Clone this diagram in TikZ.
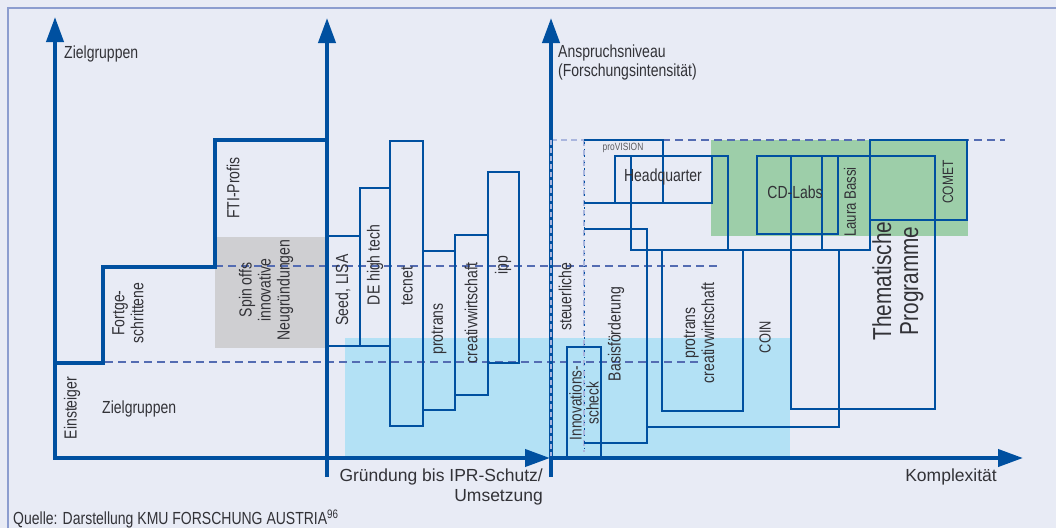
\documentclass[tikz,border=0pt]{standalone}
\usepackage{fontspec}
\setmainfont{Liberation Sans}
\newfontfamily\condfont[FakeStretch=0.8]{Liberation Sans}
\usetikzlibrary{arrows.meta}
\definecolor{kmu_bg}{RGB}{232,235,245}
\definecolor{kmu_frame}{RGB}{140,157,207}
\definecolor{kmu_blue}{RGB}{0,80,160}
\definecolor{kmu_dash}{RGB}{84,108,178}
\definecolor{kmu_light}{RGB}{170,182,222}
\definecolor{kmu_gray}{RGB}{207,207,210}
\definecolor{kmu_cyan}{RGB}{179,225,245}
\definecolor{kmu_green}{RGB}{157,206,169}
\definecolor{kmu_text}{RGB}{50,50,55}

\tikzset{
  axis/.style={kmu_blue, line width=4pt},
  axisarrow/.style={axis, -{Triangle[length=25pt,width=17pt]}},
  prog/.style={kmu_blue, line width=1.8pt},
  level/.style={kmu_dash, line width=2.6pt, dash pattern=on 8pt off 5pt},
  faint/.style={kmu_light, line width=2.4pt, dash pattern=on 6pt off 4pt},
  txt/.style={kmu_text, inner sep=0pt, align=center,
    font=\condfont\fontsize{17.5}{19}\selectfont},
  vtxt/.style={txt, rotate=90},
}

\begin{document}
\begin{tikzpicture}[x=1pt, y=-1pt]
    % Canvas 1056 x 528, coordinates counted from the top left
    \useasboundingbox (0,0) rectangle (1056,528);
    \fill[kmu_bg] (0,0) rectangle (1056,528);
    \draw[kmu_frame, line width=1.8pt] (8,528) -- (8,8) -- (1056,8);

    % Shaded areas
    \fill[kmu_gray] (215,237) rectangle (327,348);
    \fill[kmu_cyan] (345,338) rectangle (790,458);
    \fill[kmu_green] (711,140) rectangle (968,236);

    % Dashed levels
    \draw[level] (105,362) -- (702,362);
    \draw[level] (215,266) -- (720,266);
    \draw[faint] (551,140) -- (584,140);
    \draw[level] (584,140) -- (1005,140);
    \draw[faint] (584,140) -- (584,452);
    \draw[kmu_blue, line width=1pt, dash pattern=on 1.5pt off 5pt] (584,142) -- (584,452);

    % Programmes for founders
    \foreach \xa/\ya/\xb/\yb in {327/236/360/346, 360/188/390/346, 390/141/423/426,
                                 423/251/455/410, 455/235/488/395, 488/172/519/363} {
      \draw[prog] (\xa,\ya) rectangle (\xb,\yb);
    }

    % Programmes by research intensity
    \draw[prog] (567,347) rectangle (601,458);
    \draw[prog] (584,229) -- (647,229) -- (647,443) -- (584,443);
    \draw[prog] (584,140) -- (663,140) -- (663,203) -- (584,203);
    \foreach \xa/\ya/\xb/\yb in {615/156/712/203, 631/156/728/250, 662/250/743/411,
                                 647/250/839/427, 757/156/838/234, 822/156/870/250,
                                 791/156/935/409, 870/140/967/220} {
      \draw[prog] (\xa,\ya) rectangle (\xb,\yb);
    }

    % Target group staircase and axes
    \draw[axis] (55,363) -- (103,363) -- (103,267) -- (215,267) -- (215,140) -- (327,140);
    \draw[axisarrow, line join=miter] (327,458) -- (55,458) -- (55,17);
    \draw[axisarrow] (327,458) -- (550,458);
    \draw[axisarrow] (551,458) -- (1023,458);
    \draw[axisarrow] (327,477) -- (327,18);
    \draw[axisarrow] (551,477) -- (551,18);
    \draw[kmu_light, line width=1.6pt, dash pattern=on 5pt off 3pt] (551,140) -- (551,456);

    % Axis labels
    \node[txt, anchor=west] (zielTop) at (64,54) {Zielgruppen};
    \node[txt, anchor=west] (ziel) at (102,409) {Zielgruppen};
    \node[txt, anchor=west, align=left] (anspruch) at (558,62)
      {Anspruchsniveau\\(Forschungsintensit\"at)};
    \node[kmu_text, inner sep=0pt, anchor=east, align=right,
          font=\fontsize{17.5}{20}\selectfont] (gruendung) at (543,487)
      {Gr\"undung bis IPR-Schutz/\\Umsetzung};
    \node[kmu_text, inner sep=0pt, font=\fontsize{17.5}{20}\selectfont] (komplex) at (951,477)
      {Komplexit\"at};
    \node[txt, anchor=west] (quelle) at (13,519)
      {Quelle: Darstellung KMU FORSCHUNG AUSTRIA\textsuperscript{96}};

    % Target groups
    \node[vtxt] (einsteiger) at (72,408) {Einsteiger};
    \node[vtxt] (fortgeschr) at (128,313) {Fortge-\\schrittene};
    \node[vtxt] (profis) at (233,188) {FTI-Profis};
    \node[vtxt] (spinoffs) at (266,290) {Spin offs\\innovative\\Neugr\"undungen};

    % Programme labels
    \node[vtxt] (seed) at (343,290) {Seed, LISA};
    \node[vtxt] (dehigh) at (375,265) {DE high tech};
    \node[vtxt] (tecnet) at (407,286) {tecnet};
    \node[vtxt] (protrans) at (439,329) {protrans};
    \node[vtxt] (creativ) at (471,313) {creativwirtschaft};
    \node[vtxt] (ipp) at (503,265) {ipp};
    \node[vtxt] (steuer) at (565,297) {steuerliche};
    \node[vtxt, font=\condfont\fontsize{17}{17}\selectfont] (scheck) at (584,403)
      {Innovations-\\scheck};
    \node[vtxt] (basis) at (616,334) {Basisf\"orderung};
    \node[txt, font=\condfont\fontsize{10.5}{12}\selectfont, text=kmu_text!80] (provision)
      at (623,148) {proVISION};
    \node[txt] (hq) at (663,177) {Headquarter};
    \node[vtxt] (protranscw) at (699,333) {protrans\\creativwirtschaft};
    \node[vtxt, font=\condfont\fontsize{16}{19}\selectfont] (coin) at (765,337) {COIN};
    \node[txt] (cdlabs) at (795,192) {CD-Labs};
    \node[vtxt, font=\condfont\fontsize{16.5}{19}\selectfont] (bassi) at (850,202) {Laura Bassi};
    \node[vtxt, font=\condfont\fontsize{15}{18}\selectfont] (comet) at (948,182) {COMET};
    \node[vtxt, font=\condfont\fontsize{26}{27}\selectfont] (thema) at (898,281)
      {Thematische\\Programme};
\end{tikzpicture}
\end{document}
